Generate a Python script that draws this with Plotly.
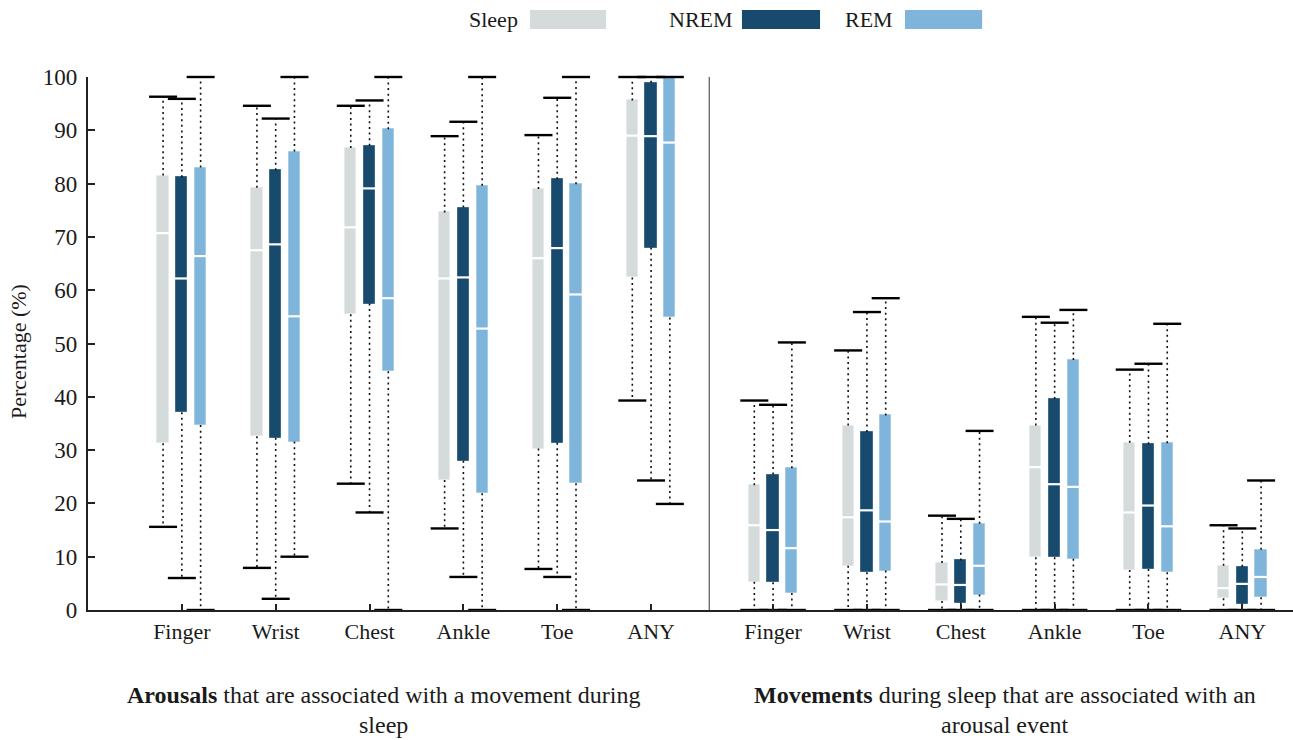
import plotly.graph_objects as go

# Body sites for both panels (arousals panel first, then movements panel)
sites = ["Finger", "Wrist", "Chest", "Ankle", "Toe", "ANY"]
tick_labels = sites + sites

# Box statistics per state: lower whisker, Q1, median, Q3, upper whisker (%)
sleep_lo = [15.6, 7.9, 23.7, 15.3, 7.7, 39.3, 0, 0, 0, 0, 0, 0]
sleep_q1 = [31.3, 32.6, 55.5, 24.4, 30.3, 62.4, 5.3, 8.3, 1.7, 9.9, 7.5, 2.2]
sleep_med = [70.7, 67.5, 71.8, 62.2, 66.0, 89.0, 15.9, 17.4, 4.8, 26.8, 18.3, 4.1]
sleep_q3 = [81.5, 79.2, 86.7, 74.6, 79.0, 95.6, 23.4, 34.6, 8.8, 34.6, 31.4, 8.3]
sleep_hi = [96.3, 94.6, 94.6, 88.9, 89.1, 100, 39.3, 48.7, 17.7, 55.0, 45.1, 15.9]

nrem_lo = [6.0, 2.1, 18.3, 6.2, 6.2, 24.3, 0, 0, 0, 0, 0, 0]
nrem_q1 = [37.1, 32.3, 57.5, 28.0, 31.4, 68.0, 5.2, 7.1, 1.4, 9.9, 7.7, 1.2]
nrem_med = [62.2, 68.6, 79.1, 62.4, 67.9, 88.9, 15.0, 18.7, 4.7, 23.6, 19.6, 4.9]
nrem_q3 = [81.2, 82.5, 87.1, 75.5, 80.8, 98.9, 25.4, 33.4, 9.3, 39.6, 31.1, 8.1]
nrem_hi = [95.9, 92.2, 95.6, 91.6, 96.1, 100, 38.5, 55.9, 17.1, 53.9, 46.2, 15.3]

rem_lo = [0, 10.0, 0, 0, 0, 19.9, 0, 0, 0, 0, 0, 0]
rem_q1 = [34.7, 31.6, 44.8, 21.9, 23.8, 54.9, 3.2, 7.4, 2.9, 9.6, 7.1, 2.4]
rem_med = [66.4, 55.1, 58.5, 52.8, 59.2, 87.7, 11.6, 16.6, 8.3, 23.1, 15.7, 6.2]
rem_q3 = [83.0, 86.0, 90.2, 79.6, 79.9, 100, 26.6, 36.5, 16.2, 46.9, 31.3, 11.3]
rem_hi = [100, 100, 100, 100, 100, 100, 50.2, 58.5, 33.6, 56.3, 53.7, 24.3]

state_names = ["Sleep", "NREM", "REM"]
state_colors = ["#D5DBDB", "#174A6C", "#7FB5DB"]
state_edges = ["#E6EAEA", "#3D6A88", "#A3CBE6"]

# Group centres on a shared numeric x axis, with a gap between the panels
panel_gap = 0.3
group_x = [i + 1 for i in range(6)] + [i + 7 + panel_gap for i in range(6)]
separator_x = 6.62
offsets = [-0.2, 0.0, 0.2]
box_w = 0.12

FONT = "Liberation Serif"
INK = "#1a1a1a"

stats = [
    (sleep_lo, sleep_q1, sleep_med, sleep_q3, sleep_hi),
    (nrem_lo, nrem_q1, nrem_med, nrem_q3, nrem_hi),
    (rem_lo, rem_q1, rem_med, rem_q3, rem_hi),
]

fig = go.Figure()

# Dotted whiskers
for k, (lo, q1, med, q3, hi) in enumerate(stats):
    wx, wy = [], []
    for g, xc in enumerate(group_x):
        x = xc + offsets[k]
        wx += [x, x, None, x, x, None]
        wy += [q3[g], hi[g], None, q1[g], lo[g], None]
    fig.add_trace(go.Scatter(
        x=wx, y=wy, mode="lines", showlegend=False, hoverinfo="skip",
        line=dict(color="#111111", width=1.6, dash="2px,3.6px"),
        cliponaxis=False,
    ))

# Interquartile boxes
for k, (lo, q1, med, q3, hi) in enumerate(stats):
    fig.add_trace(go.Bar(
        x=[xc + offsets[k] for xc in group_x],
        y=[b - a for a, b in zip(q1, q3)],
        base=q1,
        width=box_w,
        name=state_names[k],
        marker=dict(color=state_colors[k], line=dict(color=state_edges[k], width=1)),
        showlegend=False,
    ))

# Medians (white) and whisker caps (black)
for k, (lo, q1, med, q3, hi) in enumerate(stats):
    xs = [xc + offsets[k] for xc in group_x]
    fig.add_trace(go.Scatter(
        x=xs, y=med, mode="markers", showlegend=False, hoverinfo="skip",
        marker=dict(symbol="line-ew", size=11, line=dict(color="white", width=2.2)),
        cliponaxis=False,
    ))
    fig.add_trace(go.Scatter(
        x=xs + xs, y=hi + lo, mode="markers", showlegend=False, hoverinfo="skip",
        marker=dict(symbol="line-ew", size=20, line=dict(color="#000000", width=2.4)),
        cliponaxis=False,
    ))

# Vertical separator between the two panels
fig.add_shape(type="line", xref="x", yref="y", x0=separator_x, x1=separator_x,
              y0=0, y1=100, line=dict(color="#555555", width=1.2))

# Legend: label followed by a colour swatch
legend_items = [
    ("Sleep", 0.3585, 0.3668, 0.4299),
    ("NREM", 0.5370, 0.5427, 0.6075),
    ("REM", 0.6697, 0.6780, 0.7420),
]
for k, (label, tx, sx0, sx1) in enumerate(legend_items):
    fig.add_shape(type="rect", xref="paper", yref="paper", x0=sx0, x1=sx1,
                  y0=1.090, y1=1.1257, fillcolor=state_colors[k], line=dict(width=0))
    fig.add_annotation(text=label, xref="paper", yref="paper", x=tx, y=1.1088,
                       xanchor="right", yanchor="middle", showarrow=False,
                       font=dict(family=FONT, size=22, color=INK))

# Panel captions
captions = [
    ("<b>Arousals</b> that are associated with a movement during", 0.2452, -0.1595),
    ("sleep", 0.2452, -0.2158),
    ("<b>Movements</b> during sleep that are associated with an", 0.7610, -0.1595),
    ("arousal event", 0.7610, -0.2158),
]
for text, cx, cy in captions:
    fig.add_annotation(text=text, xref="paper", yref="paper", x=cx, y=cy,
                       xanchor="center", yanchor="middle", showarrow=False,
                       font=dict(family=FONT, size=24, color=INK))

# Y axis title
fig.add_annotation(text="Percentage (%)", xref="paper", yref="paper", x=0, y=0.484,
                   xshift=-70, xanchor="center", yanchor="middle", textangle=-90,
                   showarrow=False, font=dict(family=FONT, size=22, color=INK))

fig.update_layout(
    width=1293, height=740,
    margin=dict(l=88, r=0, t=77, b=130),
    plot_bgcolor="white", paper_bgcolor="white",
    barmode="overlay", bargap=0,
    showlegend=False,
    font=dict(family=FONT, color=INK),
)
fig.update_xaxes(
    range=[0, 12.84], tickmode="array", tickvals=group_x, ticktext=tick_labels,
    showline=True, linecolor="#222222", linewidth=2.2,
    ticks="inside", ticklen=6, tickwidth=2, tickcolor="#222222",
    showgrid=False, zeroline=False,
    tickfont=dict(family=FONT, size=22, color=INK),
)
fig.update_yaxes(
    range=[0, 100], tickmode="array", tickvals=list(range(0, 101, 10)),
    showline=True, linecolor="#222222", linewidth=2.2,
    ticks="inside", ticklen=7, tickwidth=2, tickcolor="#222222",
    showgrid=False, zeroline=False, ticklabelstandoff=4,
    tickfont=dict(family=FONT, size=23, color=INK),
)

fig.write_html("out.html")
